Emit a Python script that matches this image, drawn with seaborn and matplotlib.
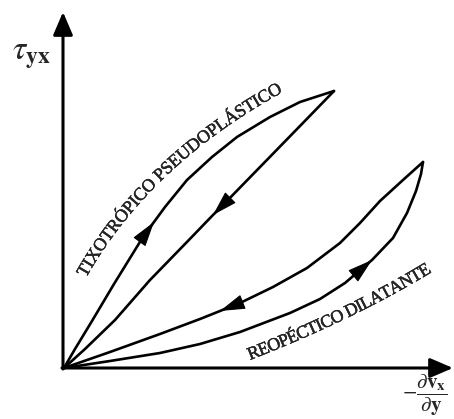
import numpy as np
import matplotlib
matplotlib.use("Agg")
import matplotlib.pyplot as plt
import matplotlib.patheffects as pe
import seaborn as sns
import pandas as pd
from matplotlib.font_manager import FontProperties, findfont, get_font

# Thixotropic pseudoplastic loop: shear rate vs shear stress (arbitrary units)
tixo_up_rate = [0.00, 0.11, 0.28, 0.50, 0.79, 0.90, 1.01, 1.23, 1.48, 1.73, 2.06, 2.36, 2.70]
tixo_up_stress = [0.00, 0.19, 0.47, 0.84, 1.31, 1.46, 1.61, 1.88, 2.11, 2.31, 2.51, 2.66, 2.77]
tixo_down_rate = [2.70, 2.36, 1.98, 1.59, 1.49, 1.21, 0.86, 0.51, 0.21, 0.00]
tixo_down_stress = [2.77, 2.42, 2.03, 1.63, 1.53, 1.24, 0.88, 0.48, 0.19, 0.00]

# Rheopectic dilatant loop
reo_up_rate = [0.00, 0.46, 0.96, 1.36, 1.76, 2.26, 2.56, 2.81, 3.08, 3.29, 3.43, 3.52, 3.57, 3.59]
reo_up_stress = [0.00, 0.07, 0.15, 0.24, 0.36, 0.55, 0.69, 0.85, 1.08, 1.30, 1.55, 1.77, 1.94, 2.06]
reo_down_rate = [3.59, 3.39, 3.16, 2.96, 2.76, 2.43, 2.09, 1.76, 1.56, 1.36, 0.96, 0.46, 0.00]
reo_down_stress = [2.06, 1.88, 1.67, 1.45, 1.25, 1.00, 0.81, 0.65, 0.57, 0.49, 0.34, 0.16, 0.00]

# Index of the point where each direction arrow sits
tixo_up_arrow, tixo_down_arrow = 5, 4
reo_up_arrow, reo_down_arrow = 8, 8

tixo_label = "TIXOTRÓPICO PSEUDOPLÁSTICO"
reo_label = "REOPÉCTICO DILATANTE"
y_label = r"$\tau_{\mathbf{yx}}$"
x_label = r"$-\dfrac{\partial \mathbf{v}_{\mathbf{x}}}{\partial \mathbf{y}}$"

sns.set_theme(style="white")
plt.rcParams["mathtext.fontset"] = "stix"
plt.rcParams["font.family"] = ["Liberation Serif", "DejaVu Serif"]

fig = plt.figure(figsize=(4.54, 4.19), dpi=100)
ax = fig.add_axes([0, 0, 1, 1])
ax.set_xlim(-0.64, 3.90)
ax.set_ylim(-0.51, 3.68)
ax.axis("off")

branches = [
    (tixo_up_rate, tixo_up_stress, tixo_up_arrow),
    (tixo_down_rate, tixo_down_stress, tixo_down_arrow),
    (reo_up_rate, reo_up_stress, reo_up_arrow),
    (reo_down_rate, reo_down_stress, reo_down_arrow),
]
for rate, stress, k in branches:
    df = pd.DataFrame({"rate": rate, "stress": stress})
    sns.lineplot(data=df, x="rate", y="stress", sort=False, estimator=None,
                 color="black", lw=1.9, ax=ax)
    ax.annotate("", xy=(rate[k], stress[k]), xytext=(rate[k - 1], stress[k - 1]),
                arrowprops=dict(arrowstyle="-|>,head_length=1.6,head_width=0.48",
                                color="black", lw=0.8, shrinkA=0, shrinkB=0,
                                mutation_scale=10))

# Coordinate axes with arrow heads
axis_style = dict(arrowstyle="-|>,head_length=1.4,head_width=0.6", color="black",
                  lw=2.2, shrinkA=0, shrinkB=0, mutation_scale=10)
ax.annotate("", xy=(-0.01, 3.56), xytext=(-0.01, -0.01), arrowprops=axis_style)
ax.annotate("", xy=(3.89, 0.0), xytext=(-0.02, 0.0), arrowprops=axis_style)

ax.text(-0.33, 3.12, y_label, fontsize=24, ha="center", va="center")
ax.text(3.61, -0.27, x_label, fontsize=15, ha="center", va="center")

ink = [pe.withStroke(linewidth=0.3, foreground="black")]


def text_along(ax, s, p0, p1, p2, size):
    """Lay a string out character by character on a quadratic curve."""
    dpi = ax.figure.dpi
    fp = FontProperties(family="Liberation Serif", size=size)
    font = get_font(findfont(fp))
    font.set_size(size, dpi)
    P = ax.transData.transform(np.array([p0, p1, p2]))
    t = np.linspace(0, 1, 800)[:, None]
    B = (1 - t) ** 2 * P[0] + 2 * (1 - t) * t * P[1] + t ** 2 * P[2]
    seg = np.hypot(*np.diff(B, axis=0).T)
    cum = np.concatenate([[0], np.cumsum(seg)])

    widths = [font.load_char(ord(c)).linearHoriAdvance / 65536 for c in s]
    gap = (cum[-1] - sum(widths)) / (len(s) - 1)
    inv = ax.transData.inverted()
    pos = 0.0
    for c, w in zip(s, widths):
        mid = pos + w / 2
        x = np.interp(mid, cum, B[:, 0])
        y = np.interp(mid, cum, B[:, 1])
        i = min(np.searchsorted(cum, mid), len(B) - 2)
        d = B[i + 1] - B[i]
        ang = np.degrees(np.arctan2(d[1], d[0]))
        ax.text(*inv.transform((x, y)), c, fontproperties=fp, rotation=ang,
                rotation_mode="anchor", ha="center", va="baseline",
                path_effects=ink)
        pos += w + gap


text_along(ax, tixo_label, (0.22, 0.90), (0.86, 2.03), (2.19, 2.76), 13)
text_along(ax, reo_label, (1.86, 0.08), (2.89, 0.48), (3.68, 0.96), 13)

fig.savefig("out.png", dpi=100)
